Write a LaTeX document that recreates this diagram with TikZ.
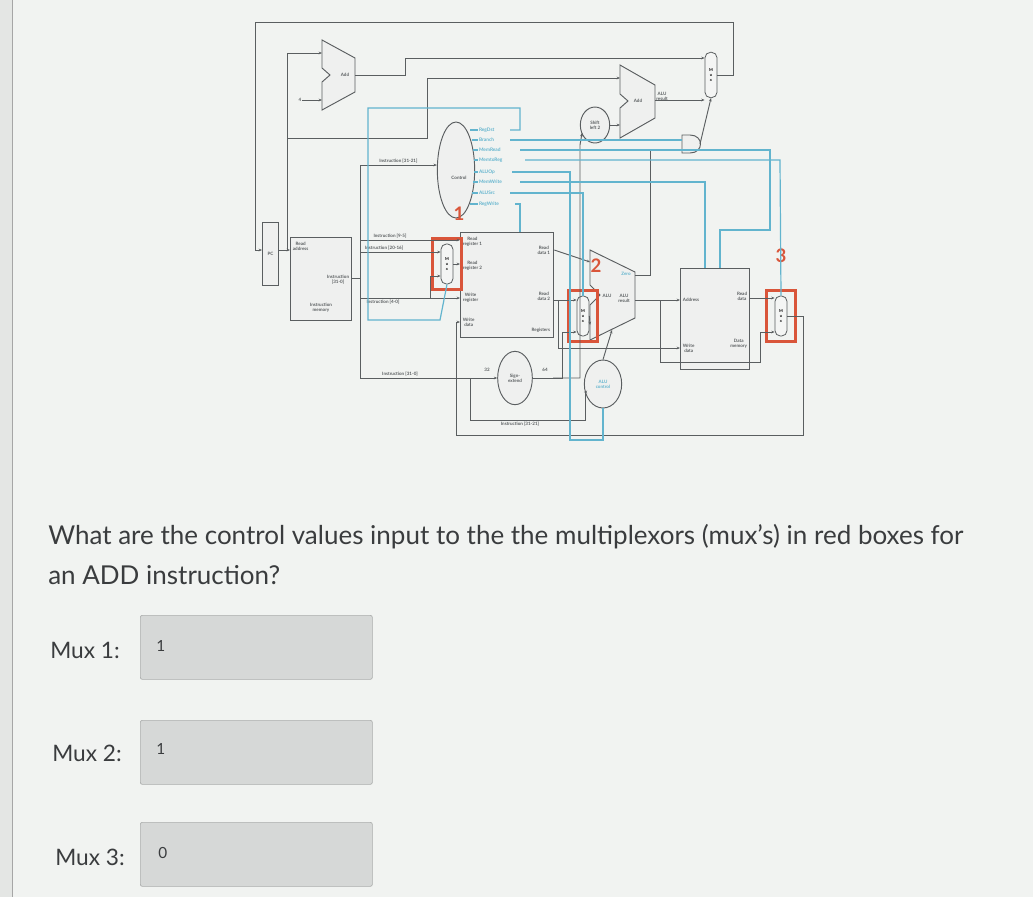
\documentclass[tikz,border=0pt]{standalone}
\usepackage{fontspec}
\setmainfont{Lato}
\usetikzlibrary{arrows.meta,shapes.geometric,shapes.misc}
\definecolor{bg}{HTML}{E4E6E4}
\definecolor{wg}{HTML}{5A5E60}
\definecolor{cb}{HTML}{62B4CE}
\definecolor{rb}{HTML}{D9553A}
\definecolor{tx}{HTML}{3A3C3E}
\definecolor{boxf}{HTML}{D6D8D7}
\begin{document}
\begin{tikzpicture}[x=0.75pt,y=-0.75pt,
 wire/.style={draw=wg,line width=0.7pt,-{Stealth[length=2.5pt,width=2pt]}},
 wl/.style={draw=wg,line width=0.7pt},
 ctl/.style={draw=cb,line width=0.9pt},
 lab/.style={font=\fontsize{3.4}{3.8}\selectfont\bfseries,text=wg,inner sep=0.5pt,align=center},
 clab/.style={font=\fontsize{3.6}{4}\selectfont\bfseries,text=cb,inner sep=0.3pt,anchor=west},
 unit/.style={draw=wg,line width=0.7pt,fill=bg!60!white,inner sep=0pt},
 muxs/.style={draw=wg,line width=0.6pt,rounded corners=4pt,fill=bg!40!white,minimum width=9pt,minimum height=30pt,inner sep=0pt,font=\fontsize{3}{4}\selectfont\bfseries,align=center},
 redb/.style={draw=rb,line width=2.2pt,minimum width=22pt,minimum height=38pt,inner sep=0pt},
 rnum/.style={font=\fontsize{14}{14}\selectfont\bfseries,text=rb},
 qtext/.style={font=\fontsize{19.5}{19.5}\selectfont,text=tx,anchor=west,inner sep=0pt},
 mlab/.style={font=\fontsize{17}{17}\selectfont,text=tx,anchor=west,inner sep=0pt},
 vlab/.style={font=\fontsize{11.5}{11.5}\selectfont,text=tx,anchor=west,inner sep=0pt},
 ansbox/.style={draw=boxf!80!black,line width=0.5pt,fill=boxf,rounded corners=1.5pt,minimum width=174pt,minimum height=48pt,anchor=north west,inner sep=0pt}]
\useasboundingbox (0,0) rectangle (1033,897);
\fill[bg] (0,0) rectangle (1033,897);
\fill[white!50!bg] (12,0) rectangle (1033,897);
\draw[gray!70,line width=0.6pt] (12,0) -- (12,897);

% ---- units ----
\node[unit,minimum width=12pt,minimum height=47pt,anchor=north west] (pc) at (262,222) {};
\node[lab] at (pc.center) {PC};
\node[unit,minimum width=46pt,minimum height=62pt,anchor=north west] (imem) at (290,237) {};
\node[lab,anchor=north west] at (292,241) {Read\\address};
\node[lab,anchor=east] at (350,280) {Instruction\\{[31-0]}};
\node[lab] at (321,308) {Instruction\\memory};

% top-left adder
\draw[unit] (322,40) -- (355,58) -- (355,92) -- (322,110) -- (322,82) -- (330,75) -- (322,68) -- cycle;
\coordinate (addin1) at (322,53); \coordinate (addin2) at (322,100); \coordinate (addout) at (355,75);
\node[lab] (addl) at (345,75) {Add};
\node[lab] (four) at (300,100) {4};

% branch adder
\draw[unit] (620,65) -- (655,85) -- (655,118) -- (620,138) -- (620,108) -- (628,101) -- (620,94) -- cycle;
\coordinate (bin1) at (620,78); \coordinate (bin2) at (620,125); \coordinate (bout) at (655,100);
\node[lab] at (638,101) {Add};
\node[lab] at (662,96) {ALU\\result};

% top-right mux
\node[muxs,minimum height=34pt] (pcmux) at (711,75) {M\\u\\x};

% AND gate
\draw[unit] (682,135) -- (690,135) .. controls (704,135) and (704,153) .. (690,153) -- (682,153) -- cycle;
\coordinate (andout) at (700,144);

% shift left 2
\node[unit,ellipse,minimum width=22pt,minimum height=27pt] (sl2) at (595,125) {};
\node[lab] at (sl2.center) {Shift\\left 2};

% control
\node[unit,ellipse,minimum width=28pt,minimum height=72pt] (ctrl) at (456,170) {};
\node[lab] at (459,178) {Control};

% registers
\node[unit,minimum width=70pt,minimum height=79pt,anchor=north west] (regs) at (460,232) {};
\node[lab,anchor=west] at (462,242) {Read\\register 1};
\node[lab,anchor=west] at (462,266) {Read\\register 2};
\node[lab,anchor=west] at (462,298) {Write\\register};
\node[lab,anchor=west] at (462,322) {Write\\data};
\node[lab,anchor=east] at (551,250) {Read\\data 1};
\node[lab,anchor=east] at (551,296) {Read\\data 2};
\node[lab,anchor=east] at (551,330) {Registers};

% sign extend
\node[unit,ellipse,minimum width=26pt,minimum height=40pt] (sext) at (515,378) {};
\node[lab] at (sext.center) {Sign-\\extend};
\node[lab] at (487,370) {32};
\node[lab] at (545,370) {64};

% ALU
\draw[unit] (590,250) -- (635,272) -- (635,318) -- (590,340) -- (590,305) -- (600,295) -- (590,285) -- cycle;
\coordinate (aluin1) at (590,262); \coordinate (aluin2) at (590,325); \coordinate (alures) at (635,300); \coordinate (aluzero) at (635,275);
\node[lab] at (607,296) {ALU};
\node[lab,text=cb] at (626,274) {Zero};
\node[lab] at (624,298) {ALU\\result};

% ALU control
\node[unit,ellipse,minimum width=28pt,minimum height=36pt] (aluc) at (603,384) {};
\node[lab,text=cb] at (aluc.center) {ALU\\control};

% data memory
\node[unit,minimum width=52pt,minimum height=76pt,anchor=north west] (dmem) at (680,268) {};
\node[lab,anchor=west] at (682,300) {Address};
\node[lab,anchor=east] at (748,296) {Read\\data};
\node[lab,anchor=west] at (682,348) {Write\\data};
\node[lab,anchor=east] at (748,344) {Data\\memory};

% muxes
\node[muxs] (m1) at (447,264) {M\\u\\x};
\node[muxs] (m2) at (583,316) {M\\u\\x};
\node[muxs] (m3) at (781,316) {M\\u\\x};
\node[redb] (r1) at (447,264) {};
\node[redb] (r2) at (583,316) {};
\node[redb] (r3) at (781,316) {};
\node[rnum] (n1) at (459,214) {1};
\node[rnum] (n2) at (596,266) {2};
\node[rnum] (n3) at (781,256) {3};

% ---- datapath wires ----
\draw[wire] (pc.east |- 0,250) -- (imem.west |- 0,250);
\draw[wire] (287,250) -- (287,53) -- (addin1);
\draw[wl] (287,138) -- (427,138) -- (427,78);
\draw[wire] (427,78) -- (bin1);
\draw[wire] (four) -- (addin2);
\draw[wire] (addout) -- (405,75) -- (405,58) -- (pcmux.west |- 0,58);
\draw[wire] (bout) -- (pcmux.west |- 0,100);
\draw[wire] (pcmux.east) -- (733,75) -- (733,22) -- (255,22) -- (255,250) -- (pc.west |- 0,250);
\draw[wire] (sl2.east) -- (bin2);
\draw[wire] (553,378) -- (580,378) -- (580,145) -- (582,133);
\draw[wire] (andout) -- (pcmux.south);
\draw[wl] (aluzero) -- (650,275) -- (650,150) -- (682,150);
% instruction bus
\draw[wl] (imem.east |- 0,278) -- (360,278);
\draw[wl] (360,165) -- (360,378);
\draw[wire] (360,165) -- (ctrl.west |- 0,165) node[lab,pos=0.5,above=0.5pt] {Instruction [31-21]};
\draw[wire] (360,240) -- (regs.west |- 0,240) node[lab,pos=0.3,above=0.5pt] {Instruction [9-5]};
\draw[wire] (360,252) -- (m1.west |- 0,252) node[lab,pos=0.3,above=0.5pt] {Instruction [20-16]};
\draw[wire] (360,298) -- (430,298) -- (430,276) -- (m1.west |- 0,276);
\node[lab] at (383,302) {Instruction [4-0]};
\draw[wire] (430,298) -- (regs.west |- 0,298);
\draw[wire] (m1.east) -- (regs.west |- m1.east);
\draw[wire] (360,378) -- (sext.west);
\node[lab] at (400,374) {Instruction [31-0]};
% register outputs
\draw[wire] (regs.east |- 0,250) -- (aluin1);
\draw[wire] (regs.east |- 0,300) -- (m2.west |- 0,300);
\draw[wire] (558,300) -- (558,348) -- (dmem.west |- 0,348);
\draw[wire] (sext.east) -- (562,378) -- (562,332) -- (m2.west |- 0,332);
\draw[wire] (m2.east) -- (aluin2);
\draw[wire] (aluc.north) -- (612,330);
\draw[wire] (470,378) -- (470,420) -- (585,420) -- (585,392) -- (aluc.west |- 0,392);
\node[lab] at (520,424) {Instruction [31-21]};
\draw[wire] (alures) -- (dmem.west |- alures);
\draw[wl] (660,300) -- (660,362) -- (760,362) -- (760,332);
\draw[wire] (760,332) -- (m3.west |- 0,332);
\draw[wire] (dmem.east |- 0,298) -- (m3.west |- 0,298);
\draw[wire] (m3.east) -- (803,316) -- (803,435) -- (456,435) -- (456,322) -- (regs.west |- 0,322);

% ---- control lines ----
\draw[ctl] (470,130) -- (478,130) node[clab] {RegDst};
\draw[ctl] (472,140) -- (478,140) node[clab] {Branch};
\draw[ctl] (473,150) -- (478,150) node[clab] {MemRead};
\draw[ctl] (474,160) -- (478,160) node[clab] {MemtoReg};
\draw[ctl] (474,172) -- (478,172) node[clab] {ALUOp};
\draw[ctl] (473,182) -- (478,182) node[clab] {MemWrite};
\draw[ctl] (472,193) -- (478,193) node[clab] {ALUSrc};
\draw[ctl] (470,204) -- (478,204) node[clab] {RegWrite};
\draw[ctl] (510,130) -- (520,130) -- (520,108) -- (368,108) -- (368,320) -- (440,320) -- (m1.south);
\draw[ctl] (510,140) -- (682,140);
\draw[ctl] (520,150) -- (770,150) -- (770,230) -- (720,230) -- (dmem.north -| 720,268);
\draw[ctl] (525,160) -- (780,160) -- (m3.north);
\draw[ctl] (512,172) -- (570,172) -- (570,440) -- (603,440) -- (aluc.south);
\draw[ctl] (520,182) -- (705,182) -- (705,268);
\draw[ctl] (510,193) -- (583,193) -- (m2.north);
\draw[ctl] (515,204) -- (520,204) -- (520,232);

% ---- question ----
\node[qtext] (q1) at (48,537) {What are the control values input to the the multiplexors (mux's) in red boxes for};
\node[qtext] (q2) at (48,575) {an ADD instruction?};
\node[ansbox] (b1) at (140,615) {};
\node[ansbox] (b2) at (140,720) {};
\node[ansbox] (b3) at (140,822) {};
\node[mlab] (l1) at (50,650) {Mux 1:};
\node[mlab] (l2) at (52,753) {Mux 2:};
\node[mlab] (l3) at (55,857) {Mux 3:};
\node[vlab] (v1) at (156,646) {1};
\node[vlab] (v2) at (156,749) {1};
\node[vlab] (v3) at (158,853) {0};
\end{tikzpicture}
\end{document}
